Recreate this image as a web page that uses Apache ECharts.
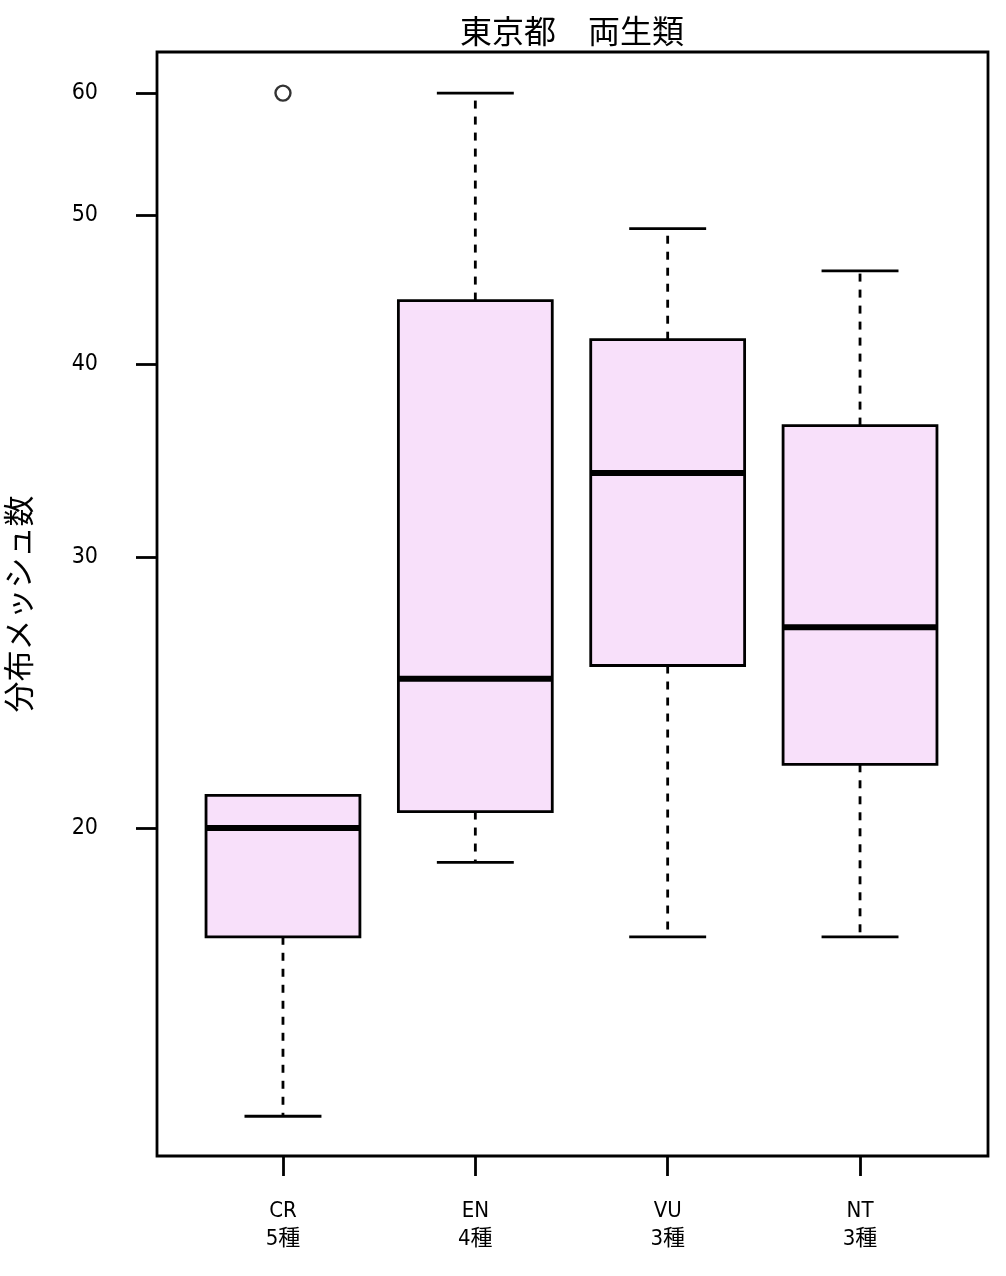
<!DOCTYPE html>
<html><head><meta charset="utf-8">
<script src="https://cdn.jsdelivr.net/npm/echarts@6/dist/echarts.min.js"></script>
<style>html,body{margin:0;padding:0;background:#fff}#c{width:1006px;height:1276px}</style>
</head><body><div id="c"></div>
<script>
const categories = ['CR', 'EN', 'VU', 'NT'];
const speciesCounts = ['5種', '4種', '3種', '3種'];
// [lowerWhisker, Q1, median, Q3, upperWhisker]
const boxStats = [
  [13, 17, 20, 21, 21],
  [19, 20.5, 25, 44, 60],
  [17, 25.5, 34, 41.5, 49],
  [17, 22, 27, 36.5, 46]
];
const outliers = [['CR', 60]];
const yTicks = [20, 30, 40, 50, 60];
const yMin = 12.25, yMax = 63.8;

const numFont = '"DejaVu Sans Condensed", "Noto Sans CJK JP", sans-serif';
const cjkFont = '"Noto Sans CJK JP", sans-serif';

const chart = echarts.init(document.getElementById('c'));
chart.setOption({
  animation: false,
  backgroundColor: '#fff',
  title: {
    text: '東京都　両生類', left: 567, textAlign: 'center', top: 10,
    textStyle: { fontFamily: cjkFont, fontSize: 32, fontWeight: 'normal', color: '#000' }
  },
  grid: [
    { left: 157, right: 18, top: 52, bottom: 120, show: true, borderColor: '#000', borderWidth: 2.8, backgroundColor: 'transparent', outerBoundsMode: 'none', containLabel: false },
    { left: 186.8, right: 49.8, top: 52, bottom: 120, outerBoundsMode: 'none', containLabel: false }
  ],
  xAxis: [
    { gridIndex: 0, type: 'value', show: false, min: 0, max: 1 },
    {
      gridIndex: 1, type: 'category', data: categories, boundaryGap: true,
      axisLine: { show: false },
      axisTick: { show: true, alignWithLabel: true, length: 20, lineStyle: { color: '#000', width: 2.8 } },
      axisLabel: {
        margin: 41, color: '#000', fontFamily: numFont, fontSize: 22, lineHeight: 28,
        formatter: (v, i) => v + '\n' + speciesCounts[i]
      }
    }
  ],
  yAxis: [
    { gridIndex: 0, type: 'value', show: false, min: 0, max: 1 },
    {
      gridIndex: 1, type: 'log', logBase: 10, min: yMin, max: yMax, offset: 29.8,
      name: '分布メッシュ数', nameLocation: 'middle', nameGap: 123, nameRotate: 90,
      nameTextStyle: { fontFamily: cjkFont, fontSize: 31, color: '#000' },
      axisLine: { show: false },
      splitLine: { show: false },
      axisTick: { show: true, length: 21, customValues: yTicks, lineStyle: { color: '#000', width: 2.8 } },
      axisLabel: { customValues: yTicks, margin: 59, color: '#000', fontFamily: numFont, fontSize: 23, padding: [4, 0, 0, 0] }
    }
  ],
  series: [
    {
      type: 'custom', xAxisIndex: 1, yAxisIndex: 1,
      data: boxStats.map((s, i) => [i].concat(s)),
      encode: { x: 0, y: [1, 2, 3, 4, 5] },
      renderItem: function (params, api) {
        const x = api.value(0);
        const lo = api.coord([x, api.value(1)]);
        const q1 = api.coord([x, api.value(2)]);
        const md = api.coord([x, api.value(3)]);
        const q3 = api.coord([x, api.value(4)]);
        const hi = api.coord([x, api.value(5)]);
        const band = api.size([1, 0])[0];
        const hw = band * 0.4;
        const cw = hw / 2;
        const cx = lo[0];
        const solid = { stroke: '#000', lineWidth: 2.8, fill: null };
        const dashed = { stroke: '#000', lineWidth: 2.8, lineDash: [8, 8], fill: null };
        return {
          type: 'group',
          children: [
            { type: 'line', shape: { x1: cx, y1: q3[1], x2: cx, y2: hi[1] }, style: dashed },
            { type: 'line', shape: { x1: cx, y1: q1[1], x2: cx, y2: lo[1] }, style: dashed },
            { type: 'line', shape: { x1: cx - cw, y1: hi[1], x2: cx + cw, y2: hi[1] }, style: solid },
            { type: 'line', shape: { x1: cx - cw, y1: lo[1], x2: cx + cw, y2: lo[1] }, style: solid },
            { type: 'rect', shape: { x: cx - hw, y: q3[1], width: hw * 2, height: q1[1] - q3[1] },
              style: { fill: '#F8E0FA', stroke: '#000', lineWidth: 2.8 } },
            { type: 'line', shape: { x1: cx - hw, y1: md[1], x2: cx + hw, y2: md[1] },
              style: { stroke: '#000', lineWidth: 6 } }
          ]
        };
      }
    },
    {
      type: 'scatter', xAxisIndex: 1, yAxisIndex: 1,
      data: outliers,
      symbol: 'circle', symbolSize: 15,
      itemStyle: { color: 'transparent', borderColor: '#000', borderWidth: 2.4 }
    }
  ]
});
</script>
</body></html>
